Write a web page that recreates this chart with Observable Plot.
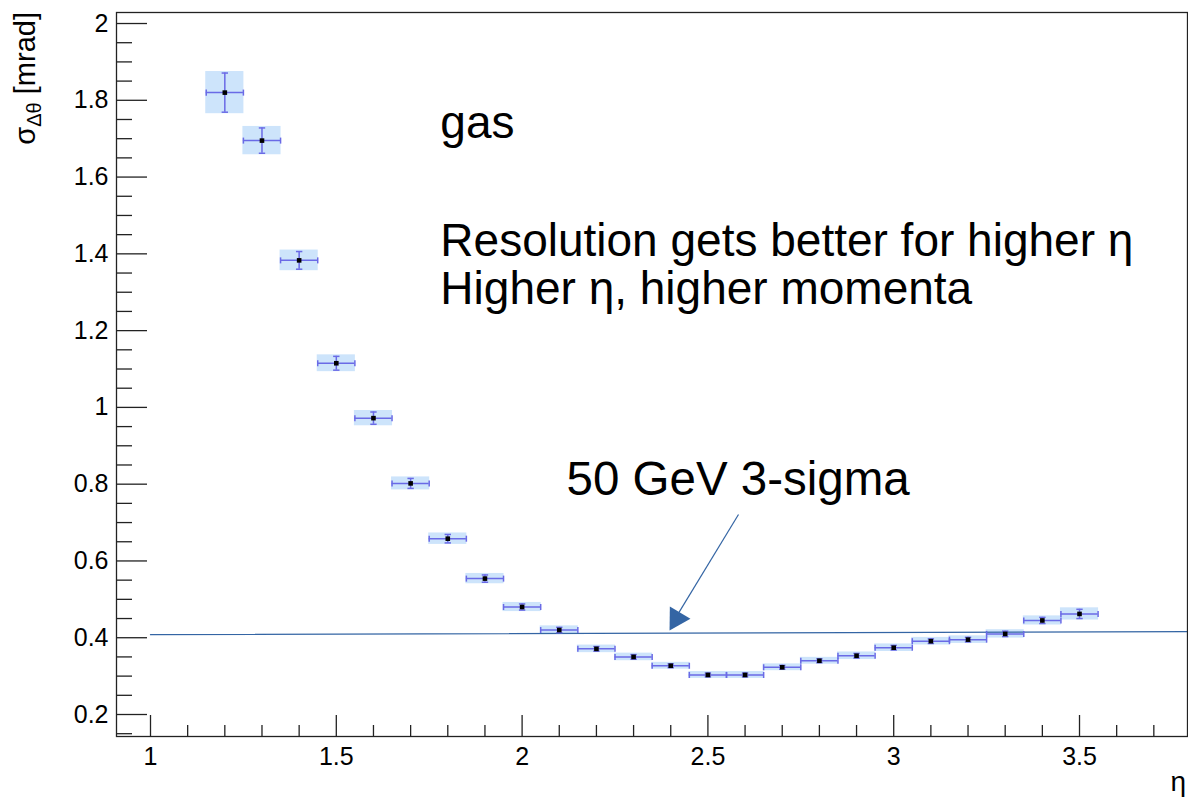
<!DOCTYPE html>
<html>
<head>
<meta charset="utf-8">
<script src="https://cdn.jsdelivr.net/npm/d3@7"></script>
<script src="https://cdn.jsdelivr.net/npm/@observablehq/plot@0.6"></script>
<style>
  html, body { margin: 0; padding: 0; background: #fff; }
  #chart svg { display: block; }
</style>
</head>
<body>
<div id="chart"></div>
<script>
// ---- data ----
const etaBins = [1.2, 1.3, 1.4, 1.5, 1.6, 1.7, 1.8, 1.9, 2.0, 2.1, 2.2, 2.3, 2.4, 2.5, 2.6, 2.7, 2.8, 2.9, 3.0, 3.1, 3.2, 3.3, 3.4, 3.5];
const sigmaValues = [1.820, 1.695, 1.383, 1.115, 0.972, 0.802, 0.658, 0.554, 0.480, 0.420, 0.371, 0.350, 0.327, 0.303, 0.303, 0.323, 0.340, 0.353, 0.374, 0.391, 0.395, 0.410, 0.445, 0.462];
const sigmaErrors = [0.051, 0.033, 0.023, 0.018, 0.016, 0.013, 0.011, 0.0095, 0.008, 0.007, 0.006, 0.006, 0.005, 0.005, 0.005, 0.005, 0.005, 0.006, 0.006, 0.006, 0.006, 0.007, 0.008, 0.012];
const binHalfWidth = 0.05;
const thresholdEta = [1.0, 3.7906];
const thresholdSigma = [0.408, 0.416];
const xMajorTicks = [1, 1.5, 2, 2.5, 3, 3.5];
const xMinorTicks = [1.1, 1.2, 1.3, 1.4, 1.6, 1.7, 1.8, 1.9, 2.1, 2.2, 2.3, 2.4, 2.6, 2.7, 2.8, 2.9, 3.1, 3.2, 3.3, 3.4, 3.6, 3.7];
const yMajorTicks = [0.2, 0.4, 0.6, 0.8, 1.0, 1.2, 1.4, 1.6, 1.8, 2.0];
const yMinorTicks = [0.15, 0.25, 0.3, 0.35, 0.45, 0.5, 0.55, 0.65, 0.7, 0.75, 0.85, 0.9, 0.95, 1.05, 1.1, 1.15, 1.25, 1.3, 1.35, 1.45, 1.5, 1.55, 1.65, 1.7, 1.75, 1.85, 1.9, 1.95];
const annotations = ["gas", "Resolution gets better for higher η\nHigher η, higher momenta", "50 GeV 3-sigma"];

const points = etaBins.map((eta, i) => ({eta, sigma: sigmaValues[i], err: sigmaErrors[i]}));
const threshold = thresholdEta.map((eta, i) => ({eta, sigma: thresholdSigma[i]}));

// ---- layout ----
const W = 1188, H = 799;
const mL = 116, mR = 1, mT = 12, mB = 63;
const plotW = W - mL - mR, plotH = H - mT - mB;
const errColor = "#6a6ae6";
const boxColor = "#cde4fb";
const lineColor = "#3465a4";

const capH = {draw(ctx, size) { const r = Math.sqrt(size) / 2; ctx.moveTo(-r, 0); ctx.lineTo(r, 0); }};
const capV = {draw(ctx, size) { const r = Math.sqrt(size) / 2; ctx.moveTo(0, -r); ctx.lineTo(0, r); }};

const chart = Plot.plot({
  width: W, height: H,
  marginLeft: mL, marginRight: mR, marginTop: mT, marginBottom: mB,
  style: {fontFamily: "'Liberation Sans', Arial, Helvetica, sans-serif", color: "#000", background: "#fff"},
  x: {domain: [0.9085, 3.7906]},
  y: {domain: [0.1427, 2.0287]},
  marks: [
    // error boxes
    Plot.rect(points, {x1: d => d.eta - binHalfWidth, x2: d => d.eta + binHalfWidth, y1: d => d.sigma - d.err, y2: d => d.sigma + d.err, fill: boxColor, insetTop: -1.5, insetBottom: -1.5, insetLeft: -0.5, insetRight: -0.5}),
    // threshold line
    Plot.line(threshold, {x: "eta", y: "sigma", stroke: lineColor, strokeWidth: 1.3}),
    // error bars
    Plot.ruleY(points, {y: "sigma", x1: d => d.eta - binHalfWidth, x2: d => d.eta + binHalfWidth, stroke: errColor, strokeWidth: 1.5}),
    Plot.ruleX(points, {x: "eta", y1: d => d.sigma - d.err, y2: d => d.sigma + d.err, stroke: errColor, strokeWidth: 1.5}),
    Plot.dot(points, {x: "eta", y: d => d.sigma - d.err, symbol: capH, r: 3.6, stroke: errColor, strokeWidth: 1.5}),
    Plot.dot(points, {x: "eta", y: d => d.sigma + d.err, symbol: capH, r: 3.6, stroke: errColor, strokeWidth: 1.5}),
    Plot.dot(points, {x: d => d.eta - binHalfWidth, y: "sigma", symbol: capV, r: 3.4, stroke: errColor, strokeWidth: 1.5}),
    Plot.dot(points, {x: d => d.eta + binHalfWidth, y: "sigma", symbol: capV, r: 3.4, stroke: errColor, strokeWidth: 1.5}),
    // markers
    Plot.dot(points, {x: "eta", y: "sigma", symbol: "square", r: 2.6, fill: "#000", stroke: "none"}),
    // ticks (inside the frame)
    Plot.tickX(xMajorTicks, {x: d => d, insetTop: plotH - 21, stroke: "#222", strokeWidth: 1.3}),
    Plot.tickX(xMinorTicks, {x: d => d, insetTop: plotH - 11, stroke: "#222", strokeWidth: 1.3}),
    Plot.tickY(yMajorTicks, {y: d => d, insetRight: plotW - 31, stroke: "#222", strokeWidth: 1.3}),
    Plot.tickY(yMinorTicks, {y: d => d, insetRight: plotW - 16, stroke: "#222", strokeWidth: 1.3}),
    Plot.axisX({ticks: xMajorTicks, tickSize: 0, tickPadding: 11, fontSize: 25, tickFormat: d3.format("~g"), label: null}),
    Plot.axisY({ticks: yMajorTicks, tickSize: 0, tickPadding: 8, fontSize: 25, tickFormat: d3.format("~g"), label: null}),
    Plot.frame({stroke: "#222", strokeWidth: 1.3}),
    // annotation arrow
    Plot.link([0], {x1: 2.5823, y1: 0.721, x2: 2.4140, y2: 0.4530, stroke: lineColor, strokeWidth: 1.2}),
    Plot.dot([0], {x: 2.4158, y: 0.4498, symbol: "triangle", r: 8.9, rotate: 210.7, fill: lineColor, stroke: "none"}),
    // annotation texts
    Plot.text([annotations[0]], {x: 1.780, y: 1.741, text: d => d, textAnchor: "start", lineAnchor: "middle", fontSize: 46, fill: "#000"}),
    Plot.text([annotations[1]], {x: 1.780, y: 1.3714, text: d => d, textAnchor: "start", lineAnchor: "middle", lineHeight: 1.045, fontSize: 46, fill: "#000"}),
    Plot.text([annotations[2]], {x: 2.1195, y: 0.812, text: d => d, textAnchor: "start", lineAnchor: "middle", fontSize: 47.5, fill: "#000"})
  ]
});

document.getElementById("chart").appendChild(chart);

// axis titles
const svg = d3.select(chart);
const yTitle = svg.append("text")
  .attr("transform", `translate(35,${mT}) rotate(-90)`)
  .attr("text-anchor", "end")
  .attr("font-family", "'Liberation Sans', Arial, sans-serif")
  .attr("font-size", 29)
  .attr("fill", "#000");
yTitle.append("tspan").text("σ");
yTitle.append("tspan").attr("font-size", 20).attr("dy", "0.3em").text("Δθ");
yTitle.append("tspan").attr("dy", "-0.2em").text(" [mrad]");

svg.append("text")
  .attr("x", W - 2).attr("y", 791)
  .attr("text-anchor", "end")
  .attr("font-family", "'Liberation Sans', Arial, sans-serif")
  .attr("font-size", 28)
  .attr("fill", "#000")
  .text("η");
</script>
</body>
</html>
